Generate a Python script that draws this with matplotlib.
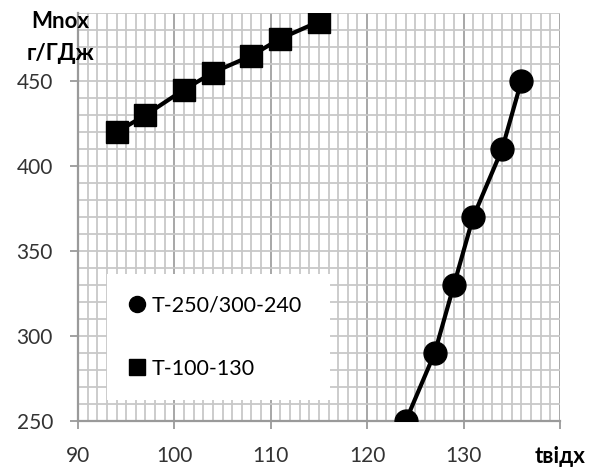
import matplotlib
matplotlib.use("Agg")
import matplotlib.pyplot as plt
from matplotlib.ticker import MultipleLocator

plt.rcParams['font.family'] = ['Lato', 'Open Sans', 'DejaVu Sans']

# T-250/300-240
t_250 = [124, 127, 129, 131, 134, 136]
m_250 = [250, 290, 330, 370, 410, 450]

# T-100-130
t_100 = [94, 97, 101, 104, 108, 111, 115]
m_100 = [420, 430, 445, 455, 465, 475, 485]

labels = ['T-250/300-240', 'T-100-130']
x_ticks = [90, 100, 110, 120, 130, 140]
x_ticklabels = ['90', '100', '110', '120', '130', 'tвідх']
y_ticks = [250, 300, 350, 400, 450]

fig = plt.figure(figsize=(5.95, 4.68), dpi=100)
ax = fig.add_axes([0.131, 0.100, 0.810, 0.872])

ax.plot(t_250, m_250, color='black', lw=3, marker='o', ms=16.5, label=labels[0], zorder=5)
ax.plot(t_100, m_100, color='black', lw=3, marker='s', ms=16, label=labels[1], zorder=5)

ax.set_xlim(90, 140)
ax.set_ylim(250, 490)
ax.set_xticks(x_ticks)
ax.set_xticklabels(x_ticklabels)
ax.set_yticks(y_ticks)
ax.xaxis.set_minor_locator(MultipleLocator(1))
ax.yaxis.set_minor_locator(MultipleLocator(10))

ax.grid(which='minor', color='#c8c8c8', lw=1.3)
ax.grid(which='major', axis='x', color='#a0a0a0', lw=1.3)
ax.grid(which='major', axis='y', color='#c8c8c8', lw=1.3)
ax.set_axisbelow(True)

for s in ['top', 'right']:
    ax.spines[s].set_visible(False)
for s in ['left', 'bottom']:
    ax.spines[s].set_color('#9a9a9a')
    ax.spines[s].set_linewidth(1.6)

ax.tick_params(which='major', direction='out', length=6, width=1.3, color='#9a9a9a',
               labelsize=15, labelcolor='#333333')
ax.tick_params(axis='x', pad=12)
ax.tick_params(axis='y', pad=12)
ax.tick_params(which='minor', length=0)
lab = ax.get_xticklabels()[-1]
lab.set_fontweight('bold')
lab.set_color('black')
lab.set_fontsize(16)

fig.text(0.101, 0.953, 'Mnox', fontsize=16, fontweight='bold', ha='center', va='center')
fig.text(0.101, 0.886, 'г/ГДж', fontsize=16, fontweight='bold', ha='center', va='center')

leg = ax.legend(loc='lower left', bbox_to_anchor=(0.06, 0.051, 0.463, 0.30), mode='expand',
                frameon=True, fancybox=False, framealpha=1, facecolor='white',
                edgecolor='none', fontsize=15.5, markerscale=0.7, handlelength=0.8,
                handletextpad=0.3, labelspacing=2.0, borderpad=1.0, borderaxespad=0)
for h in leg.legend_handles:
    h.set_linestyle('none')

fig.savefig('out.png', dpi=100)
